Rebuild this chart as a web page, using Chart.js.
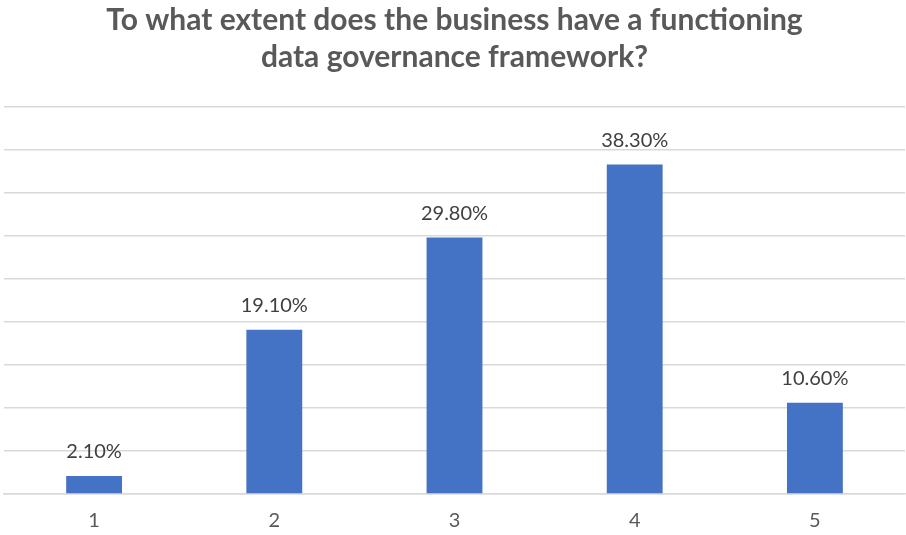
<!DOCTYPE html>
<html>
<head>
<meta charset="utf-8">
<script src="https://cdn.jsdelivr.net/npm/chart.js@4"></script>
<style>
  body { margin: 0; background: #fff; }
  #wrap { width: 906px; height: 535px; }
</style>
</head>
<body>
<div id="wrap"><canvas id="govChart"></canvas></div>
<script>
const categories = ['1', '2', '3', '4', '5'];
const shares = [2.1, 19.1, 29.8, 38.3, 10.6];
const titleLines = ['To what extent does the business have a functioning', 'data governance framework?'];

// writes the percentage above each bar
const barValueLabels = {
    id: 'barValueLabels',
    afterDatasetsDraw(chart) {
        const ctx = chart.ctx;
        const meta = chart.getDatasetMeta(0);
        ctx.save();
        ctx.font = '20px Lato';
        ctx.fillStyle = '#404040';
        ctx.textAlign = 'center';
        ctx.textBaseline = 'bottom';
        meta.data.forEach((bar, i) => {
            ctx.fillText(shares[i].toFixed(2) + '%', bar.x, bar.y - 14);
        });
        ctx.restore();
    }
};

function initChart() {
    const ctx = document.getElementById('govChart');
    new Chart(ctx.getContext('2d'), {
        type: 'bar',
        data: {
            labels: categories,
            datasets: [{
                data: shares,
                backgroundColor: '#4472C4',
                borderWidth: 0,
                categoryPercentage: 1,
                barPercentage: 0.31
            }]
        },
        options: {
            responsive: true,
            maintainAspectRatio: false,
            animation: false,
            layout: { padding: { left: 4, right: 1, top: 0, bottom: -13 } },
            scales: {
                y: {
                    min: 0,
                    max: 45,
                    ticks: { display: false, stepSize: 5 },
                    grid: { color: '#d9d9d9', lineWidth: 1.5, drawTicks: false },
                    border: { display: false }
                },
                x: {
                    ticks: {
                        color: '#595959',
                        padding: 15,
                        font: { family: 'Lato', size: 20 }
                    },
                    grid: { display: false, drawTicks: false },
                    border: { color: '#d9d9d9', width: 1.5 }
                }
            },
            plugins: {
                legend: { display: false },
                tooltip: { enabled: false },
                title: {
                    display: true,
                    text: titleLines,
                    color: '#595959',
                    font: { family: 'Lato', size: 30, weight: 'bold', lineHeight: 1.23 },
                    padding: { top: 2, bottom: 31 }
                }
            }
        },
        plugins: [barValueLabels]
    });
}

document.addEventListener('DOMContentLoaded', initChart);
</script>
</body>
</html>
